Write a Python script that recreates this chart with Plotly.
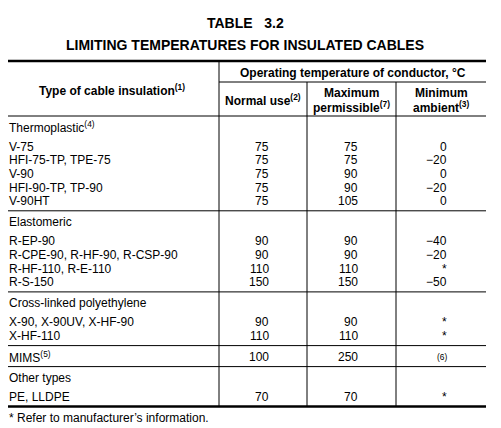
import plotly.graph_objects as go

# table data
groups = ["Thermoplastic<sup>(4)</sup>", "Elastomeric", "Cross-linked polyethylene", "", "Other types"]
group_of_row = [0, 0, 0, 0, 0, 1, 1, 1, 1, 2, 2, 3, 4]
insulation = ["V-75", "HFI-75-TP, TPE-75", "V-90", "HFI-90-TP, TP-90", "V-90HT",
              "R-EP-90", "R-CPE-90, R-HF-90, R-CSP-90", "R-HF-110, R-E-110", "R-S-150",
              "X-90, X-90UV, X-HF-90", "X-HF-110",
              "MIMS<sup>(5)</sup>",
              "PE, LLDPE"]
normal_use = [75, 75, 75, 75, 75, 90, 90, 110, 150, 90, 110, 100, 70]
max_permissible = [75, 75, 90, 90, 105, 90, 90, 110, 150, 90, 110, 250, 70]
min_ambient = ["0", "\u221220", "0", "\u221220", "0",
               "\u221240", "\u221220", "*", "\u221250",
               "*", "*", "<sup>(6)</sup>", "*"]

FONT = "Liberation Sans, Arial, sans-serif"

# layout constants (pixel units on a hidden axis)
X_LEFT, X_RIGHT = 4, 486
X_C1, X_C2, X_C3 = 219, 307, 396
Y_TOP, Y_SUB, Y_HEAD = 61, 82, 116
ROW = 13.7
PAGE = 8  # browser body margin

fig = go.Figure()
shapes = []
ann = []


def hline(y, x0=X_LEFT, x1=X_RIGHT, w=1, color="black"):
    shapes.append(dict(type="line", xref="x", yref="y", x0=x0, x1=x1, y0=y, y1=y,
                       line=dict(color=color, width=w)))


def text(x, y, s, anchor="left", size=12, bold=False):
    if bold:
        s = "<b>" + s + "</b>"
    ann.append(dict(x=x, y=y, xref="x", yref="y", text=s, showarrow=False,
                    xanchor=anchor, yanchor="middle", borderpad=0,
                    font=dict(family=FONT, size=size, color="black")))


# titles
text(245, 23, "TABLE\u00a0\u00a0 3.2", "center", 14, True)
text(245, 45, "LIMITING TEMPERATURES FOR INSULATED CABLES", "center", 14, True)

# header
hline(Y_TOP, w=2.5)
hline(Y_SUB, X_C1, X_RIGHT)
hline(Y_HEAD)
text((X_C1 + X_RIGHT) / 2, 73, "Operating temperature of conductor, \u00b0C", "center", 12, True)
text((X_LEFT + X_C1) / 2, 90, "Type of cable insulation<sup>(1)</sup>", "center", 12, True)
text((X_C1 + X_C2) / 2, 100, "Normal use<sup>(2)</sup>", "center", 12, True)
text((X_C2 + X_C3) / 2, 93, "Maximum", "center", 12, True)
text((X_C2 + X_C3) / 2, 107, "permissible<sup>(7)</sup>", "center", 12, True)
text((X_C3 + X_RIGHT) / 2, 93, "Minimum", "center", 12, True)
text((X_C3 + X_RIGHT) / 2, 107, "ambient<sup>(3)</sup>", "center", 12, True)

# body rows
y = Y_HEAD
for g, name in enumerate(groups):
    rows = [i for i, k in enumerate(group_of_row) if k == g]
    if name:
        text(8, y + 11, name)
        ry = y + 30.5
    else:
        ry = y + 11.5
    for i in rows:
        text(8, ry, insulation[i])
        text(270, ry, str(normal_use[i]), "right")
        text(359, ry, str(max_permissible[i]), "right")
        text(448, ry, min_ambient[i], "right")
        last = ry
        ry += ROW
    y = last + 9.5
    hline(y, w=2.5 if g == len(groups) - 1 else 1)

y_bottom = y
shapes.append(dict(type="line", xref="x", yref="y", x0=X_C1, x1=X_C1, y0=Y_TOP, y1=y_bottom,
                   line=dict(color="black", width=1)))
for xc in (X_C2, X_C3):
    shapes.append(dict(type="line", xref="x", yref="y", x0=xc, x1=xc, y0=Y_SUB, y1=y_bottom,
                       line=dict(color="black", width=1)))

text(8, y_bottom + 11, "* Refer to manufacturer\u2019s information.")

fig.update_layout(
    width=501, height=428,
    margin=dict(l=0, r=0, t=0, b=0),
    paper_bgcolor="white", plot_bgcolor="white",
    xaxis=dict(range=[PAGE, 501 + PAGE], visible=False, fixedrange=True),
    yaxis=dict(range=[428 + PAGE, PAGE], visible=False, fixedrange=True),
    shapes=shapes, annotations=ann, showlegend=False,
)

fig.write_html("out.html")
